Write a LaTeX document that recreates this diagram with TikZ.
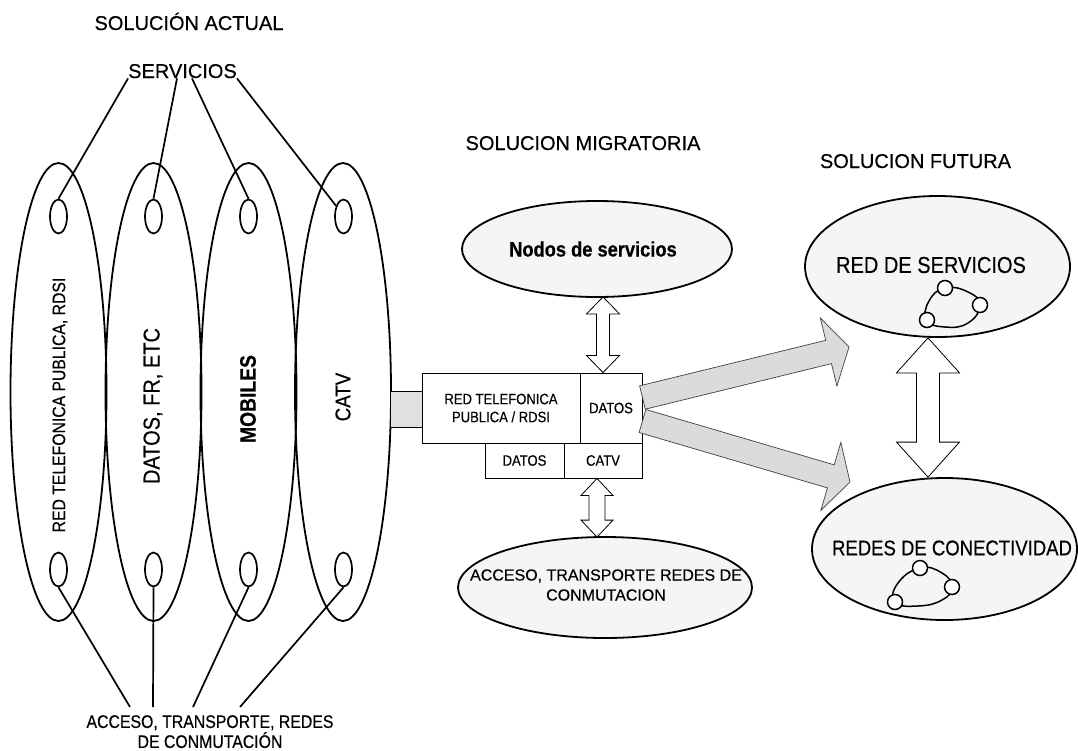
\documentclass[tikz,border=0pt]{standalone}
\usepackage{fontspec}
\setmainfont{Liberation Sans}[FakeBold=0.4]
\newfontfamily\nf[FakeStretch=0.87,FakeBold=0.4]{Liberation Sans}
\usetikzlibrary{shapes.geometric,calc}

\tikzset{
  bigell/.style={ellipse, draw, line width=1.8pt, minimum width=96pt, minimum height=458pt, inner sep=0pt},
  smallell/.style={ellipse, draw, line width=1.7pt, minimum width=17pt, minimum height=34pt, inner sep=0pt},
  conn/.style={line width=1.7pt},
  title/.style={font=\fontsize{20}{24}\selectfont, inner sep=0pt, anchor=base},
  vlab/.style={rotate=90, inner sep=0pt},
  cloud/.style={ellipse, draw, line width=1.8pt, fill=black!4, inner sep=0pt},
  cell/.style={draw, line width=0.9pt, inner sep=0pt, align=center, font=\nf\fontsize{15}{18}\selectfont},
  hollow/.style={draw, line width=0.8pt, fill=white, line join=miter},
  fat/.style={draw=black!75, line width=0.7pt, fill=black!14, line join=miter},
  netnode/.style={circle, draw, line width=1.5pt, fill=white, minimum size=15pt, inner sep=0pt},
  netloop/.style={line width=1.5pt},
}

% fat arrow: #1 start, #2 tip, #3 half shaft, #4 half head, #5 head length, #6 style
\newcommand\fatarw[6]{%
  \coordinate (fa-b) at ($(#2)!#5!(#1)$);
  \draw[#6] ($(#1)!#3!90:(#2)$) -- ($(fa-b)!#3!90:(#2)$) -- ($(fa-b)!#4!90:(#2)$) -- (#2)
    -- ($(fa-b)!#4!-90:(#2)$) -- ($(fa-b)!#3!-90:(#2)$) -- ($(#1)!#3!-90:(#2)$) -- cycle;}
% double arrow: #1 tip A, #2 tip B, #3 half shaft, #4 half head, #5 head length, #6 style
\newcommand\dblarw[6]{%
  \coordinate (da-a) at ($(#1)!#5!(#2)$);
  \coordinate (da-b) at ($(#2)!#5!(#1)$);
  \draw[#6] (#1) -- ($(da-a)!#4!90:(#2)$) -- ($(da-a)!#3!90:(#2)$) -- ($(da-b)!#3!-90:(#1)$)
    -- ($(da-b)!#4!-90:(#1)$) -- (#2) -- ($(da-b)!#4!90:(#1)$) -- ($(da-b)!#3!90:(#1)$)
    -- ($(da-a)!#3!-90:(#2)$) -- ($(da-a)!#4!-90:(#2)$) -- cycle;}

\begin{document}
\begin{tikzpicture}[x=1pt,y=-1pt]
\path[use as bounding box, fill=white] (0,0) rectangle (1078,750);

% ---------- SOLUCION ACTUAL ----------
\node[title] (tact) at (189,30) {SOLUCIÓN ACTUAL};
\node[title] (serv) at (182.5,78) {SERVICIOS};

\node[bigell] (e1) at (58.5,392) {};
\node[bigell] (e2) at (153.5,392) {};
\node[bigell] (e3) at (248.5,392) {};
\node[bigell] (e4) at (343,392) {};

\node[vlab, font=\nf\fontsize{18.1}{20}\selectfont] (l1) at (60,405) {RED TELEFONICA PUBLICA, RDSI};
\node[vlab, font=\nf\fontsize{23}{26}\selectfont] (l2) at (153,406) {DATOS, FR, ETC};
\node[vlab, font=\nf\bfseries\fontsize{22.2}{26}\selectfont] (l3) at (248,399) {MOBILES};
\node[vlab, font=\nf\fontsize{21.5}{26}\selectfont] (l4) at (343,397) {CATV};

\node[smallell] (s1t) at (58.5,216.5) {};
\node[smallell] (s2t) at (153.5,216.5) {};
\node[smallell] (s3t) at (248.5,216.5) {};
\node[smallell] (s4t) at (343.5,216.5) {};
\node[smallell] (s1b) at (58.5,569.5) {};
\node[smallell] (s2b) at (153.5,569.5) {};
\node[smallell] (s3b) at (248.5,569.5) {};
\node[smallell] (s4b) at (343.5,569.5) {};

\draw[conn] (serv.south west) -- (s1t.north);
\draw[conn] ($(serv.south)+(-5.5,0)$) -- (s2t.north);
\draw[conn] ($(serv.south)+(9.5,0)$) -- (s3t.north);
\draw[conn] (serv.south east) -- (s4t.125);

\node[inner sep=0pt, anchor=north, align=center, font=\nf\fontsize{18.2}{20}\selectfont] (acc) at (210,715)
  {ACCESO, TRANSPORTE, REDES\\DE CONMUTACIÓN};
\draw[conn] (s1b.south) -- ($(acc.north)+(-80,-8)$);
\draw[conn] (s2b.south) -- ($(acc.north)+(-57,-8)$);
\draw[conn] (s3b.south) -- ($(acc.north)+(-17,-8)$);
\draw[conn] (s4b.south) -- ($(acc.north)+(30,-8)$);

% ---------- SOLUCION MIGRATORIA ----------
\node[title] (tmig) at (583,150) {SOLUCION MIGRATORIA};

\node[cloud, minimum width=270pt, minimum height=96pt] (nodos) at (597,249) {};
\node[inner sep=0pt, font=\nf\bfseries\fontsize{21}{24}\selectfont] (nodoslab) at (593,249) {Nodos de servicios};

\node[cloud, minimum width=294pt, minimum height=101pt] (accm) at (605,587.5) {};
\node[inner sep=0pt, align=center, font=\fontsize{16}{20}\selectfont] (accmlab) at (606,585)
  {ACCESO, TRANSPORTE REDES DE\\CONMUTACION};

\node[cell, minimum width=158pt, minimum height=70pt] (rtp) at (501,408) {RED TELEFONICA\\PUBLICA / RDSI};
\node[cell, minimum width=62pt, minimum height=70pt] (datosA) at (611,408) {DATOS};
\node[cell, minimum width=79pt, minimum height=35pt] (datosB) at (524.5,460.5) {DATOS};
\node[cell, minimum width=78pt, minimum height=35pt] (catv) at (603,460.5) {CATV};

% stub between CATV ellipse and the box
\node[fill=black!12, inner sep=0pt, minimum width=31pt, minimum height=35pt] (stub) at (406.5,409.5) {};
\draw[line width=0.8pt] (stub.north west) -- (stub.north east);
\draw[line width=0.8pt] (stub.south west) -- (stub.south east);

% vertical hollow double arrows
\coordinate (ua) at ($(nodos.south)+(6,-1)$);
\coordinate (ub) at (rtp.north -| ua);
\dblarw{ua}{ub}{6.5pt}{16.5pt}{17pt}{hollow}
\coordinate (la) at ($(catv.south)+(-6,0)$);
\coordinate (lb) at ($(accm.north)+(-8,1)$);
\coordinate (lb2) at (la |- lb);
\dblarw{la}{lb2}{8pt}{16pt}{17pt}{hollow}

% ---------- SOLUCION FUTURA ----------
\node[title] (tfut) at (915.5,168) {SOLUCION FUTURA};

\node[cloud, minimum width=265pt, minimum height=141pt] (rserv) at (937.5,266.5) {};
\node[inner sep=0pt, font=\nf\fontsize{23}{26}\selectfont] (rservlab) at (931,265) {RED DE SERVICIOS};
\node[cloud, minimum width=265pt, minimum height=142pt] (rcon) at (944.5,549) {};
\node[inner sep=0pt, font=\nf\fontsize{21.3}{24}\selectfont] (rconlab) at (952,548) {REDES DE CONECTIVIDAD};

% network loops
\draw[netloop] plot[smooth cycle, tension=0.8] coordinates {(945,288) (968,292) (980,305) (968,323) (945,327) (927,320) (929,301)};
\node[netnode] (n1) at (945,288) {};
\node[netnode] (n2) at (980,305) {};
\node[netnode] (n3) at (927,320) {};
\draw[netloop] plot[smooth cycle, tension=0.8] coordinates {(920,568) (942,573) (952,587) (942,600) (918,606) (895,602) (898,583)};
\node[netnode] (m1) at (920,568) {};
\node[netnode] (m2) at (952,587) {};
\node[netnode] (m3) at (895,602) {};

\coordinate (ra) at (rserv.south -| 928,0);
\coordinate (rb) at (rcon.north -| 928,0);
\dblarw{ra}{rb}{11.5pt}{31.5pt}{35pt}{hollow}

% fat migration arrows
\coordinate (fu-s) at ($(datosA.east)+(0,-10.5)$);
\coordinate (fu-t) at (849,347);
\coordinate (fl-s) at ($(datosA.east)+(0,13)$);
\coordinate (fl-t) at (850,482);
\fatarw{fu-s}{fu-t}{12pt}{35pt}{21pt}{fat}
\fatarw{fl-s}{fl-t}{12pt}{35.5pt}{20pt}{fat}

\end{tikzpicture}
\end{document}
